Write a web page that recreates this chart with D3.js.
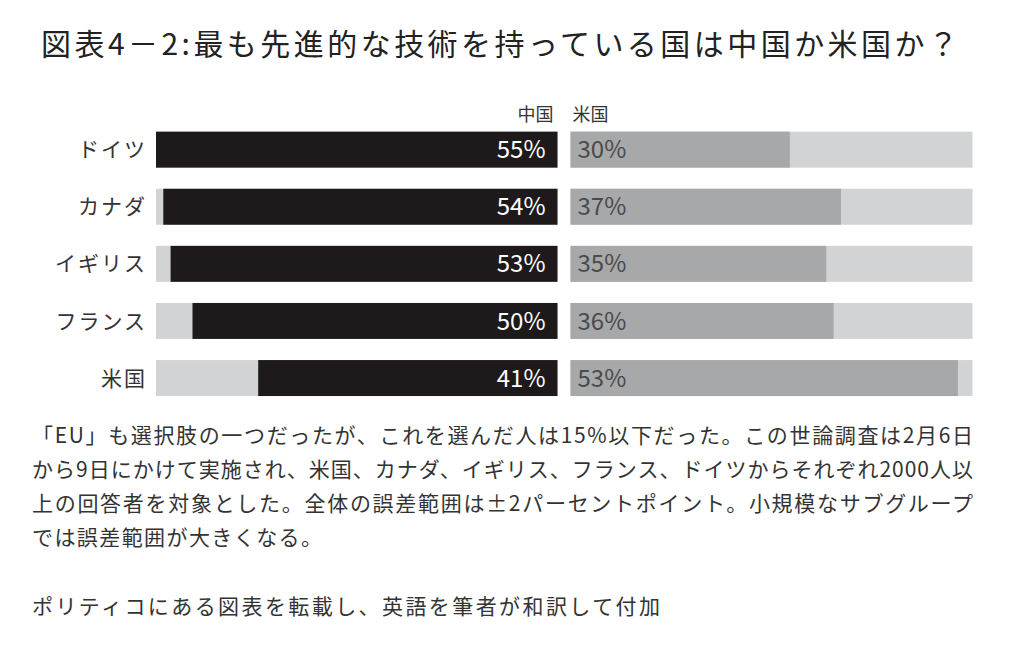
<!DOCTYPE html>
<html>
<head>
<meta charset="utf-8">
<script src="https://cdn.jsdelivr.net/npm/d3@7"></script>
<style>
  body { margin: 0; background: #fff; }
  text { font-family: "Noto Sans CJK JP", "Noto Sans", sans-serif; }
</style>
</head>
<body>
<script>
// data
var countries = ["ドイツ", "カナダ", "イギリス", "フランス", "米国"];
var chinaPct = [55, 54, 53, 50, 41];
var usPct = [30, 37, 35, 36, 53];
var seriesNames = ["中国", "米国"];

var title = "図表4－2:最も先進的な技術を持っている国は中国か米国か？";
var noteLines = [
  "「EU」も選択肢の一つだったが、これを選んだ人は15%以下だった。この世論調査は2月6日",
  "から9日にかけて実施され、米国、カナダ、イギリス、フランス、ドイツからそれぞれ2000人以",
  "上の回答者を対象とした。全体の誤差範囲は±2パーセントポイント。小規模なサブグループ",
  "では誤差範囲が大きくなる。"
];
var sourceLine = "ポリティコにある図表を転載し、英語を筆者が和訳して付加";

var width = 1010, height = 646;

var svg = d3.select("body").append("svg")
    .attr("width", width)
    .attr("height", height);

// scales: both panels run 0..55%
var xLeft = d3.scaleLinear().domain([0, 55]).range([557.5, 156]);
var xRight = d3.scaleLinear().domain([0, 55]).range([570.5, 972.5]);
var y = d3.scaleBand()
    .domain(countries)
    .range([121.1, 406.6])
    .paddingInner(0.37)
    .paddingOuter(0.185);

var rows = countries.map(function(c, i) {
  return { name: c, cn: chinaPct[i], us: usPct[i] };
});

// title
svg.append("text")
    .attr("x", 41)
    .attr("y", 55)
    .attr("font-size", 30)
    .attr("fill", "#222")
    .attr("textLength", 917)
    .attr("lengthAdjust", "spacing")
    .text(title);

// series headers
svg.append("text")
    .attr("x", xLeft(0) - 4)
    .attr("y", 121)
    .attr("text-anchor", "end")
    .attr("font-size", 18)
    .attr("fill", "#333")
    .text(seriesNames[0]);

svg.append("text")
    .attr("x", xRight(0) + 2)
    .attr("y", 121)
    .attr("font-size", 18)
    .attr("fill", "#333")
    .text(seriesNames[1]);

// background bars
svg.selectAll(".bgL").data(rows).enter().append("rect")
    .attr("x", xLeft(55))
    .attr("y", function(d) { return y(d.name); })
    .attr("width", xLeft(0) - xLeft(55))
    .attr("height", y.bandwidth())
    .attr("fill", "#d1d3d4");

svg.selectAll(".bgR").data(rows).enter().append("rect")
    .attr("x", xRight(0))
    .attr("y", function(d) { return y(d.name); })
    .attr("width", xRight(55) - xRight(0))
    .attr("height", y.bandwidth())
    .attr("fill", "#d1d3d4");

// China bars grow leftwards
svg.selectAll(".cn").data(rows).enter().append("rect")
    .attr("x", function(d) { return xLeft(d.cn); })
    .attr("y", function(d) { return y(d.name); })
    .attr("width", function(d) { return xLeft(0) - xLeft(d.cn); })
    .attr("height", y.bandwidth())
    .attr("fill", "#1e1a1b");

// US bars grow rightwards
svg.selectAll(".us").data(rows).enter().append("rect")
    .attr("x", xRight(0))
    .attr("y", function(d) { return y(d.name); })
    .attr("width", function(d) { return xRight(d.us) - xRight(0); })
    .attr("height", y.bandwidth())
    .attr("fill", "#a6a8aa");

// value labels
svg.selectAll(".cnLab").data(rows).enter().append("text")
    .attr("x", xLeft(0) - 12)
    .attr("y", function(d) { return y(d.name) + y.bandwidth() / 2; })
    .attr("dy", "0.36em")
    .attr("text-anchor", "end")
    .attr("font-size", 24)
    .attr("fill", "#fff")
    .text(function(d) { return d.cn + "%"; });

svg.selectAll(".usLab").data(rows).enter().append("text")
    .attr("x", xRight(0) + 7)
    .attr("y", function(d) { return y(d.name) + y.bandwidth() / 2; })
    .attr("dy", "0.36em")
    .attr("font-size", 24)
    .attr("fill", "#4a4a4a")
    .text(function(d) { return d.us + "%"; });

// country labels
svg.selectAll(".cat").data(rows).enter().append("text")
    .attr("x", 147)
    .attr("y", function(d) { return y(d.name) + y.bandwidth() / 2; })
    .attr("dy", "0.36em")
    .attr("text-anchor", "end")
    .attr("font-size", 21)
    .attr("letter-spacing", 2)
    .attr("fill", "#333")
    .text(function(d) { return d.name; });

// footnote
var noteEnds = [973, 973, 973, 322];
noteLines.forEach(function(s, i) {
  svg.append("text")
      .attr("x", 32)
      .attr("y", 443 + i * 34)
      .attr("font-size", 21)
      .attr("fill", "#333")
      .attr("textLength", noteEnds[i] - 32)
      .attr("lengthAdjust", "spacing")
      .text(s);
});

svg.append("text")
    .attr("x", 32)
    .attr("y", 614)
    .attr("font-size", 21)
    .attr("fill", "#333")
    .attr("textLength", 628)
    .attr("lengthAdjust", "spacing")
    .text(sourceLine);
</script>
</body>
</html>
